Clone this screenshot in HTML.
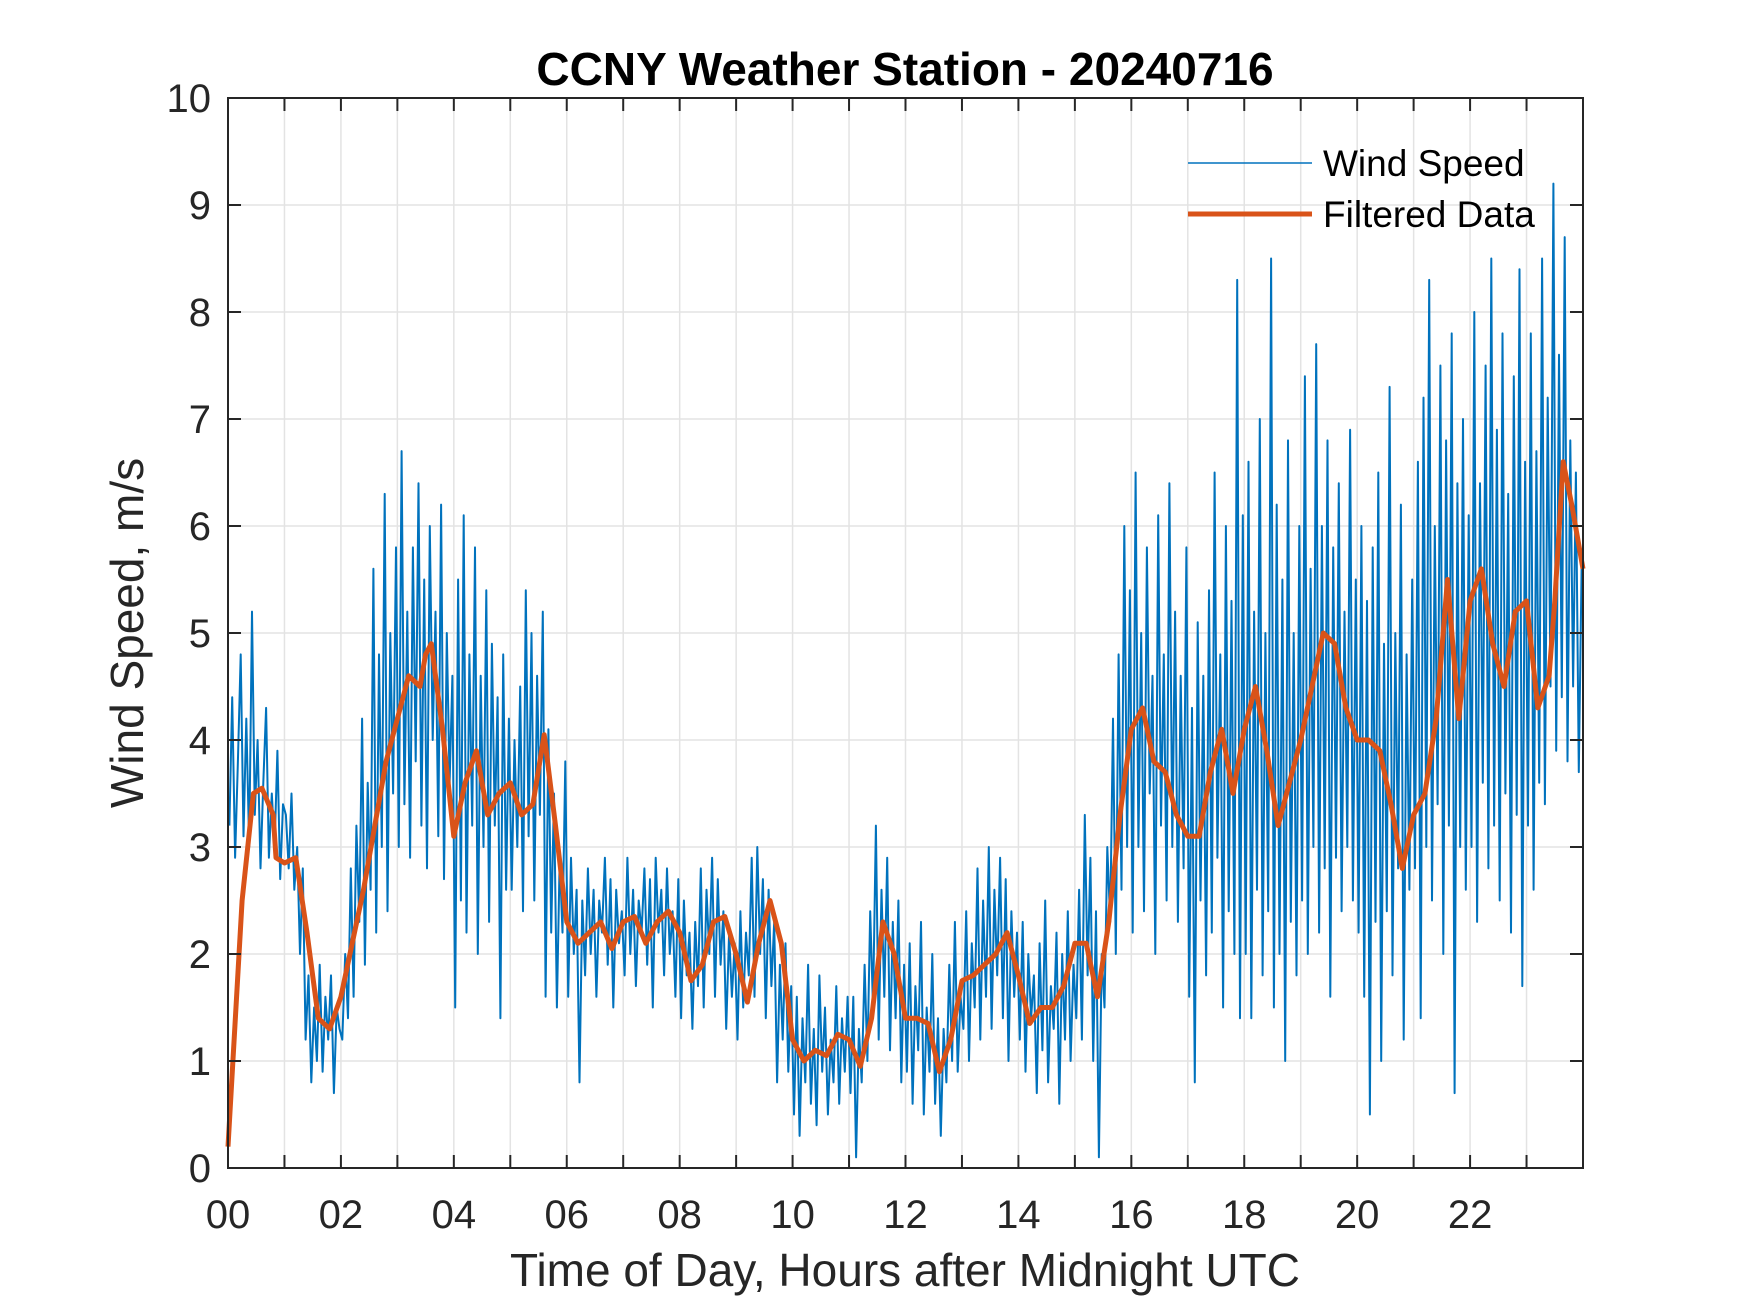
<!DOCTYPE html>
<html><head><meta charset="utf-8">
<style>
html,body{margin:0;padding:0;background:#fff;}
svg{display:block;font-family:"Liberation Sans",Arial,sans-serif;}
</style></head>
<body>
<svg id="chart" width="1750" height="1313" viewBox="0 0 1750 1313" xmlns="http://www.w3.org/2000/svg">
<rect x="0" y="0" width="1750" height="1313" fill="#fff"/>
<g id="grid"></g>
<g id="series"></g>
<rect x="228" y="98" width="1355" height="1070" fill="none" stroke="#262626" stroke-width="2"/>
<g id="ticks"></g>
<text x="905" y="85" text-anchor="middle" font-size="46" font-weight="bold" fill="#000">CCNY Weather Station - 20240716</text>
<text x="905" y="1286" text-anchor="middle" font-size="46" fill="#262626">Time of Day, Hours after Midnight UTC</text>
<text transform="translate(143,633) rotate(-90)" text-anchor="middle" font-size="46" fill="#262626">Wind Speed, m/s</text>
<g>
<line x1="1188" y1="163" x2="1312" y2="163" stroke="#0072BD" stroke-width="1.5"/>
<text x="1323" y="176" font-size="37" fill="#000">Wind Speed</text>
<line x1="1188" y1="214" x2="1312" y2="214" stroke="#D95319" stroke-width="5"/>
<text x="1323" y="227" font-size="37" fill="#000">Filtered Data</text>
</g>
</svg>
<script>
const xTicks = [0,2,4,6,8,10,12,14,16,18,20,22];
const xTickLabels = ["00","02","04","06","08","10","12","14","16","18","20","22"];
const yTicks = [0,1,2,3,4,5,6,7,8,9,10];
const rawPerHour = 20;
const rawValues = [
3.2,4.4,2.9,3.8,4.8,3.1,4.2,3.0,5.2,3.3,4.0,2.8,3.6,4.3,2.9,3.5,3.0,3.9,2.7,3.4,
3.3,2.8,3.5,2.6,3.0,2.0,2.8,1.2,1.8,0.8,1.5,1.0,1.9,0.9,1.6,1.2,1.8,0.7,1.5,1.3,
1.2,2.0,1.4,2.8,1.6,3.2,2.3,4.2,1.9,3.6,2.6,5.6,2.2,4.8,3.0,6.3,2.4,5.0,3.5,5.8,
3.0,6.7,3.4,5.2,2.9,5.8,3.8,6.4,3.2,5.5,2.8,6.0,4.0,5.2,3.1,6.2,2.7,5.0,3.6,4.6,
1.5,5.5,2.5,6.1,2.2,4.8,3.2,5.8,2.0,4.6,3.0,5.4,2.3,4.9,3.2,4.4,1.4,4.8,2.6,4.2,
2.6,4.0,3.0,4.5,2.4,5.4,3.1,5.0,2.5,4.6,3.3,5.2,1.6,4.1,2.2,3.5,1.5,2.9,2.2,3.8,
1.6,2.9,2.0,2.6,0.8,2.5,1.8,2.8,2.0,2.6,1.6,2.5,2.2,2.9,1.9,2.7,1.5,2.6,2.1,2.4,
1.8,2.9,2.0,2.6,1.7,2.5,2.2,2.8,1.9,2.7,1.5,2.9,2.2,2.6,1.8,2.8,2.0,2.4,1.6,2.7,
1.4,2.5,1.8,2.2,1.3,2.3,1.7,2.8,1.5,2.6,2.0,2.9,1.6,2.7,1.9,2.4,1.3,2.2,1.6,2.1,
1.2,2.4,1.5,2.2,1.8,2.9,1.6,3.0,2.0,2.7,1.4,2.6,1.7,2.3,0.8,1.9,1.2,2.1,0.9,1.7,
0.5,1.6,0.3,1.4,0.8,1.9,0.6,1.3,0.4,1.8,0.9,1.5,0.5,1.2,0.8,1.7,0.6,1.4,0.9,1.6,
0.7,1.6,0.1,1.3,0.8,1.9,1.0,2.4,1.5,3.2,1.2,2.6,1.6,2.9,1.1,2.3,1.4,2.5,0.8,1.9,
0.9,2.1,0.6,1.7,1.1,2.3,0.5,1.5,0.9,2.0,0.6,1.4,0.3,1.3,0.8,1.9,1.0,2.3,0.9,1.6,
1.3,2.4,1.0,2.1,1.5,2.8,1.2,2.5,1.6,3.0,1.3,2.6,1.8,2.9,1.4,2.7,1.0,2.4,1.6,2.2,
1.2,2.3,0.9,2.0,1.4,1.8,0.7,2.1,1.1,2.5,0.8,1.7,1.3,2.2,0.6,2.0,1.2,2.4,1.0,1.9,
1.4,2.6,1.2,3.3,1.8,2.9,1.0,2.4,0.1,2.0,1.5,3.0,2.3,4.2,2.0,4.8,2.6,6.0,3.0,5.4,
2.2,6.5,3.0,5.0,2.4,5.8,3.5,4.6,2.0,6.1,3.2,4.8,2.5,6.4,3.0,5.2,2.3,4.6,2.8,5.8,
1.6,4.3,0.8,5.1,2.5,4.6,1.8,5.4,2.2,6.5,2.9,4.8,1.5,6.0,2.4,5.3,2.0,8.3,1.4,6.1,
2.0,6.6,1.4,5.2,2.6,7.0,1.8,5.0,2.4,8.5,1.5,6.2,2.0,5.5,1.0,6.8,2.3,5.0,1.8,6.0,
2.5,7.4,2.0,5.6,3.0,7.7,2.2,6.0,2.8,6.8,1.6,5.8,2.9,6.4,2.4,5.2,3.0,6.9,2.5,5.5,
2.2,6.0,1.6,5.3,0.5,5.8,2.3,6.5,1.0,4.9,2.4,7.3,1.8,5.0,2.8,6.2,1.2,4.8,2.6,5.5,
2.8,6.6,1.4,7.2,3.0,8.3,2.5,6.0,3.4,7.5,2.0,6.8,3.2,7.8,0.7,6.4,3.0,7.0,2.6,6.1,
3.0,8.0,2.3,6.4,3.6,7.5,2.8,8.5,3.2,6.9,2.5,7.8,3.5,6.3,2.2,7.4,3.3,8.4,1.7,6.6,
3.2,7.8,2.6,6.7,3.6,8.5,3.4,7.2,4.5,9.2,3.9,7.6,4.4,8.7,3.8,6.8,4.5,6.5,3.7,5.6
];
const filtTimes = [0,0.25,0.45,0.6,0.8,0.85,1.0,1.2,1.4,1.6,1.8,2.0,2.2,2.4,2.6,2.8,3.0,3.2,3.4,3.5,3.6,3.8,4.0,4.2,4.4,4.6,4.8,5.0,5.2,5.4,5.6,5.8,6.0,6.2,6.4,6.6,6.8,7.0,7.2,7.4,7.6,7.8,8.0,8.2,8.4,8.6,8.8,9.0,9.2,9.4,9.6,9.8,10.0,10.2,10.4,10.6,10.8,11.0,11.2,11.4,11.6,11.8,12.0,12.2,12.4,12.6,12.8,13.0,13.2,13.4,13.6,13.8,14.0,14.2,14.4,14.6,14.8,15.0,15.2,15.4,15.6,15.8,16.0,16.2,16.4,16.6,16.8,17.0,17.2,17.4,17.6,17.8,18.0,18.2,18.4,18.6,18.8,19.0,19.2,19.4,19.6,19.8,20.0,20.2,20.4,20.6,20.8,21.0,21.2,21.4,21.6,21.8,22.0,22.2,22.4,22.6,22.8,23.0,23.2,23.4,23.5,23.65,23.8,24.0];
const filtValues = [0.2,2.5,3.5,3.55,3.3,2.9,2.85,2.9,2.2,1.4,1.3,1.6,2.1,2.6,3.2,3.8,4.2,4.6,4.5,4.8,4.9,4.1,3.1,3.6,3.9,3.3,3.5,3.6,3.3,3.4,4.05,3.2,2.3,2.1,2.2,2.3,2.05,2.3,2.35,2.1,2.3,2.4,2.2,1.75,1.9,2.3,2.35,2.0,1.55,2.1,2.5,2.1,1.2,1.0,1.1,1.05,1.25,1.2,0.95,1.4,2.3,2.0,1.4,1.4,1.35,0.9,1.2,1.75,1.8,1.9,2.0,2.2,1.8,1.35,1.5,1.5,1.7,2.1,2.1,1.6,2.3,3.3,4.1,4.3,3.8,3.7,3.3,3.1,3.1,3.7,4.1,3.5,4.1,4.5,3.9,3.2,3.6,4.0,4.5,5.0,4.9,4.3,4.0,4.0,3.9,3.4,2.8,3.3,3.5,4.2,5.5,4.2,5.3,5.6,4.9,4.5,5.2,5.3,4.3,4.6,5.3,6.6,6.2,5.6];

const L=228,R=1583,T=98,B=1168;
const xs = h => L + (h/24)*(R-L);
const ys = v => B - (v/10)*(B-T);
const NS="http://www.w3.org/2000/svg";
function mk(tag, attrs, parent){const e=document.createElementNS(NS,tag);for(const k in attrs)e.setAttribute(k,attrs[k]);parent.appendChild(e);return e;}
const grid=document.getElementById('grid'), ticks=document.getElementById('ticks'), series=document.getElementById('series');
for(let h=1;h<24;h++){
  const g=mk('line',{x1:xs(h),x2:xs(h),y1:T,y2:B,stroke:'#e3e3e3','stroke-width':1.5},grid);
  
  
  const t1=mk('line',{x1:xs(h),x2:xs(h),y1:B,y2:B-13,stroke:'#262626','stroke-width':2},ticks);
  
  
  const t2=mk('line',{x1:xs(h),x2:xs(h),y1:T,y2:T+13,stroke:'#262626','stroke-width':2},ticks);
  
  
}
yTicks.forEach(v=>{
  if(v>0&&v<10){
    const g=mk('line',{x1:L,x2:R,y1:ys(v),y2:ys(v),stroke:'#e3e3e3','stroke-width':1.5},grid);
    
    
    const t1=mk('line',{x1:L,x2:L+13,y1:ys(v),y2:ys(v),stroke:'#262626','stroke-width':2},ticks);
    
    
    const t2=mk('line',{x1:R,x2:R-13,y1:ys(v),y2:ys(v),stroke:'#262626','stroke-width':2},ticks);
    
    
  }
  const lb=mk('text',{x:211,y:ys(v)+14,'text-anchor':'end','font-size':40,fill:'#262626'},ticks);
  lb.textContent=String(v);
  
  
});
xTicks.forEach((h,i)=>{
  const lb=mk('text',{x:xs(h),y:1228,'text-anchor':'middle','font-size':40,fill:'#262626'},ticks);
  lb.textContent=xTickLabels[i];
  
  
});
let d='';
rawValues.forEach((v,i)=>{const h=Math.min(24,i/rawPerHour+0.025);d+=(i?'L':'M')+xs(h).toFixed(1)+','+ys(v).toFixed(1);});
const raw=mk('path',{d:d,fill:'none',stroke:'#0072BD','stroke-width':2,'stroke-linejoin':'round'},series);


let d2='';
filtValues.forEach((v,i)=>{d2+=(i?'L':'M')+xs(filtTimes[i]).toFixed(1)+','+ys(v).toFixed(1);});
const filt=mk('path',{d:d2,fill:'none',stroke:'#D95319','stroke-width':5,'stroke-linejoin':'round'},series);


</script>
</body></html>
